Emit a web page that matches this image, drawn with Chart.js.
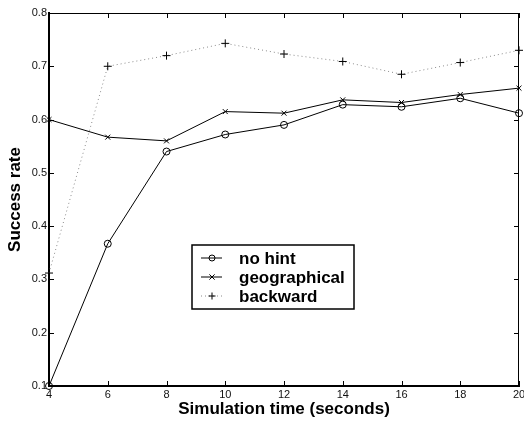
<!DOCTYPE html>
<html>
<head>
<meta charset="utf-8">
<script src="https://cdn.jsdelivr.net/npm/chart.js@4/dist/chart.umd.min.js"></script>
<style>
  html, body { margin: 0; padding: 0; background: #fff; }
  canvas { display: block; }
</style>
</head>
<body>
<canvas id="rate-chart" width="524" height="422"></canvas>
<script>
// Simulation time (s) and success rate per hint strategy
const times = [4, 6, 8, 10, 12, 14, 16, 18, 20];
const noHint = [0.100, 0.367, 0.540, 0.572, 0.590, 0.628, 0.624, 0.640, 0.612];
const geographical = [0.600, 0.567, 0.560, 0.615, 0.612, 0.637, 0.632, 0.647, 0.659];
const backward = [0.312, 0.700, 0.720, 0.743, 0.723, 0.709, 0.685, 0.707, 0.730];

const xTicks = [4, 6, 8, 10, 12, 14, 16, 18, 20];
const yTicks = [0.1, 0.2, 0.3, 0.4, 0.5, 0.6, 0.7, 0.8];

const toPoints = vals => vals.map((v, i) => ({ x: times[i], y: v }));

// inward tick marks on all four sides + top/right frame
const boxTicks = {
    id: 'boxTicks',
    afterDraw(chart) {
        const { ctx, chartArea: a, scales } = chart;
        ctx.save();
        ctx.strokeStyle = '#000';
        ctx.lineWidth = 1;
        ctx.beginPath();
        ctx.moveTo(a.left, a.top + 0.5);
        ctx.lineTo(a.right - 0.5, a.top + 0.5);
        ctx.lineTo(a.right - 0.5, a.bottom);
        ctx.stroke();
        const len = 5;
        ctx.beginPath();
        xTicks.forEach(v => {
            const px = Math.round(scales.x.getPixelForValue(v)) + 0.5;
            ctx.moveTo(px, a.bottom); ctx.lineTo(px, a.bottom - len);
            ctx.moveTo(px, a.top); ctx.lineTo(px, a.top + len);
        });
        yTicks.forEach(v => {
            const py = Math.round(scales.y.getPixelForValue(v)) + 0.5;
            ctx.moveTo(a.left, py); ctx.lineTo(a.left + len, py);
            ctx.moveTo(a.right, py); ctx.lineTo(a.right - len, py);
        });
        ctx.stroke();
        ctx.restore();
    }
};

function drawMarker(ctx, style, x, y, r) {
    ctx.beginPath();
    if (style === 'circle') {
        ctx.arc(x, y, r, 0, Math.PI * 2);
    } else if (style === 'crossRot') {
        const d = r * 0.75;
        ctx.moveTo(x - d, y - d); ctx.lineTo(x + d, y + d);
        ctx.moveTo(x + d, y - d); ctx.lineTo(x - d, y + d);
    } else {
        ctx.moveTo(x - r, y); ctx.lineTo(x + r, y);
        ctx.moveTo(x, y - r); ctx.lineTo(x, y + r);
    }
    ctx.stroke();
}

// boxed legend inside the plot
const boxLegend = {
    id: 'boxLegend',
    afterDraw(chart) {
        const ctx = chart.ctx;
        const bx = 192, by = 245, bw = 162, bh = 64;
        ctx.save();
        ctx.fillStyle = '#fff';
        ctx.fillRect(bx, by, bw, bh);
        ctx.strokeStyle = '#000';
        ctx.lineWidth = 1.5;
        ctx.strokeRect(bx, by, bw, bh);
        chart.data.datasets.forEach((ds, i) => {
            const y = by + 13 + i * 19;
            ctx.strokeStyle = ds.borderColor;
            ctx.lineWidth = 1;
            ctx.setLineDash(ds.borderDash || []);
            ctx.beginPath();
            ctx.moveTo(201, y); ctx.lineTo(222, y);
            ctx.stroke();
            ctx.setLineDash([]);
            ctx.strokeStyle = '#000';
            drawMarker(ctx, ds.pointStyle, 212, y, ds.pointStyle === 'circle' ? 3 : 3.5);
            ctx.fillStyle = '#000';
            ctx.font = 'bold 17px "Liberation Sans", Arial, sans-serif';
            ctx.textBaseline = 'middle';
            ctx.fillText(ds.label, 239, y + 1);
        });
        ctx.restore();
    }
};

const ctx = document.getElementById('rate-chart').getContext('2d');
new Chart(ctx, {
    type: 'line',
    data: {
        datasets: [
            {
                label: 'no hint',
                data: toPoints(noHint),
                borderColor: '#000',
                borderWidth: 1,
                pointStyle: 'circle',
                pointRadius: 3.5,
                pointBorderColor: '#000',
                pointBackgroundColor: 'rgba(0,0,0,0)',
                pointBorderWidth: 1,
                tension: 0,
                fill: false
            },
            {
                label: 'geographical',
                data: toPoints(geographical),
                borderColor: '#000',
                borderWidth: 1,
                pointStyle: 'crossRot',
                pointRadius: 3.5,
                pointBorderColor: '#000',
                pointBorderWidth: 1,
                tension: 0,
                fill: false
            },
            {
                label: 'backward',
                data: toPoints(backward),
                borderColor: '#8a8a8a',
                borderDash: [1, 3],
                borderWidth: 1,
                pointStyle: 'cross',
                pointRadius: 4,
                pointBorderColor: '#000',
                pointBorderWidth: 1,
                tension: 0,
                fill: false
            }
        ]
    },
    options: {
        responsive: false,
        animation: false,
        clip: false,
        layout: { padding: { top: 13, right: 2, left: 0, bottom: 0 } },
        plugins: {
            legend: { display: false },
            tooltip: { enabled: false }
        },
        scales: {
            x: {
                type: 'linear',
                min: 4,
                max: 20,
                afterBuildTicks: s => { s.ticks = xTicks.map(v => ({ value: v })); },
                afterFit: s => { s.height = 36; s.paddingRight = 0; s.paddingLeft = 0; },
                grid: { display: false, drawTicks: false },
                border: { display: true, color: '#000', width: 2 },
                ticks: {
                    padding: 2,
                    color: '#111',
                    font: { family: '"Liberation Sans", Arial, sans-serif', size: 11 },
                    maxRotation: 0
                },
                title: {
                    display: true,
                    text: 'Simulation time (seconds)',
                    color: '#000',
                    font: { family: '"Liberation Sans", Arial, sans-serif', size: 17, weight: 'bold' },
                    padding: { top: 0, bottom: 2 }
                }
            },
            y: {
                min: 0.1,
                max: 0.8,
                afterBuildTicks: s => { s.ticks = yTicks.map(v => ({ value: v })); },
                afterFit: s => { s.width = 49; s.paddingTop = 0; s.paddingBottom = 0; },
                grid: { display: false, drawTicks: false },
                border: { display: true, color: '#000', width: 2 },
                ticks: {
                    padding: 2,
                    color: '#111',
                    font: { family: '"Liberation Sans", Arial, sans-serif', size: 11 },
                    callback: v => v.toFixed(1)
                },
                title: {
                    display: true,
                    text: 'Success rate',
                    color: '#000',
                    font: { family: '"Liberation Sans", Arial, sans-serif', size: 17, weight: 'bold' },
                    padding: { top: 5, bottom: 0 }
                }
            }
        }
    },
    plugins: [boxTicks, boxLegend]
});
</script>
</body>
</html>
